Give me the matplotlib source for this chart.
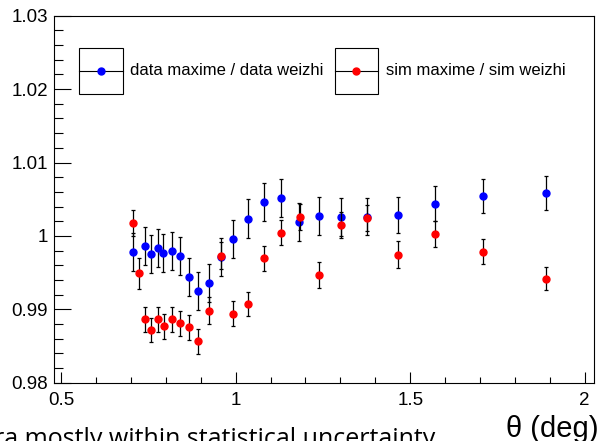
import matplotlib
matplotlib.use("Agg")
import matplotlib.pyplot as plt
from matplotlib.patches import Rectangle
from matplotlib.lines import Line2D
from matplotlib.ticker import MultipleLocator, FuncFormatter

# ratio data
theta_data = [0.707, 0.740, 0.757, 0.777, 0.793, 0.817, 0.840, 0.865, 0.893, 0.924, 0.958,
              0.993, 1.035, 1.080, 1.129, 1.181, 1.240, 1.303, 1.376, 1.464, 1.572, 1.708, 1.888]
ratio_data = [0.99786, 0.99868, 0.99754, 0.99840, 0.99772, 0.99795, 0.99727, 0.99437, 0.99246,
              0.99363, 0.99718, 0.99963, 1.00236, 1.00464, 1.00518, 1.00191, 1.00273, 1.00255,
              1.00263, 1.00286, 1.00441, 1.00546, 1.00583]
err_data = [0.0026, 0.0026, 0.0026, 0.0026, 0.0026, 0.0026, 0.0026, 0.0026, 0.0026, 0.0026,
            0.0026, 0.0026, 0.0026, 0.0026, 0.0026, 0.0026, 0.0026, 0.0026, 0.0025, 0.0025,
            0.0024, 0.0023, 0.0023]

theta_sim = [0.707, 0.724, 0.740, 0.757, 0.777, 0.795, 0.818, 0.840, 0.865, 0.891, 0.924, 0.958,
             0.993, 1.035, 1.080, 1.129, 1.183, 1.240, 1.303, 1.376, 1.464, 1.572, 1.708, 1.888]
ratio_sim = [1.00173, 0.99491, 0.98864, 0.98718, 0.98864, 0.98772, 0.98864, 0.98809, 0.98754,
             0.98563, 0.98981, 0.99731, 0.98940, 0.99072, 0.99696, 1.00041, 1.00255, 0.99468,
             1.00146, 1.00241, 0.99745, 1.00023, 0.99786, 0.99417]
err_sim = [0.0018, 0.0021, 0.0017, 0.0017, 0.0017, 0.0017, 0.0017, 0.0017, 0.0017, 0.0017,
           0.0018, 0.0018, 0.0017, 0.0017, 0.0017, 0.0017, 0.0018, 0.0018, 0.0018, 0.0018,
           0.0018, 0.0018, 0.0017, 0.0016]

legend_labels = ["data maxime / data weizhi", "sim maxime / sim weizhi"]
x_title = "θ (deg)"
note = "ra mostly within statistical uncertainty"

W, H = 600, 441
FONT = "Liberation Sans"

def fx(x):
    return x / W

def fy(y):
    return 1 - y / H

fig = plt.figure(figsize=(W / 100, H / 100), dpi=100)
ax = fig.add_axes([fx(53.5), fy(382.7), fx(594.3 - 53.5), (382.7 - 15.7) / H])

ax.errorbar(theta_data, ratio_data, yerr=err_data, fmt="o", color="#0000ff", ms=5,
            ecolor="black", elinewidth=0.9, capsize=1.5, capthick=0.9, zorder=3)
ax.errorbar(theta_sim, ratio_sim, yerr=err_sim, fmt="o", color="#ff0000", ms=5,
            ecolor="black", elinewidth=0.9, capsize=1.5, capthick=0.9, zorder=4)

ax.set_xlim(0.478, 2.0275)
ax.set_ylim(0.98, 1.03)

ax.xaxis.set_major_locator(MultipleLocator(0.5))
ax.xaxis.set_minor_locator(MultipleLocator(0.1))
ax.yaxis.set_major_locator(MultipleLocator(0.01))
ax.yaxis.set_minor_locator(MultipleLocator(0.002))
fmt = FuncFormatter(lambda v, p: f"{v:g}")
ax.xaxis.set_major_formatter(fmt)
ax.yaxis.set_major_formatter(fmt)

ax.tick_params(axis="both", which="both", direction="in", top=False, right=False, width=0.8)
ax.tick_params(axis="y", which="major", length=12.5, pad=4)
ax.tick_params(axis="y", which="minor", length=6.5)
ax.tick_params(axis="x", which="major", length=8, pad=7)
ax.tick_params(axis="x", which="minor", length=4)
for lab in ax.get_xticklabels() + ax.get_yticklabels():
    lab.set_fontfamily(FONT)
    lab.set_fontsize(13.5)
for sp in ax.spines.values():
    sp.set_linewidth(0.8)

# legend drawn by hand: ROOT style boxes with line and marker
boxes = [(79.3, 122.7, "#0000ff", 130), (334.5, 378.0, "#ff0000", 385.5)]
for (x0, x1, col, tx), lab in zip(boxes, legend_labels):
    fig.patches.append(Rectangle((fx(x0), fy(94)), fx(x1 - x0), (94 - 47.7) / H,
                                 transform=fig.transFigure, fill=False, ec="black", lw=0.8))
    fig.lines.append(Line2D([fx(x0), fx(x1)], [fy(70.5), fy(70.5)], transform=fig.transFigure,
                            color="black", lw=0.8))
    fig.lines.append(Line2D([fx((x0 + x1) / 2)], [fy(70.5)], transform=fig.transFigure,
                            marker="o", ms=5, color=col, ls="none"))
    fig.text(fx(tx), fy(70.5), lab, family=FONT, fontsize=12, va="center", ha="left")

fig.text(fx(598), fy(437), x_title, family=FONT, fontsize=21, ha="right", va="baseline")
fig.text(fx(-6), fy(446), note, family="Open Sans", fontsize=18, ha="left", va="baseline")

fig.savefig("out.png", dpi=100)
